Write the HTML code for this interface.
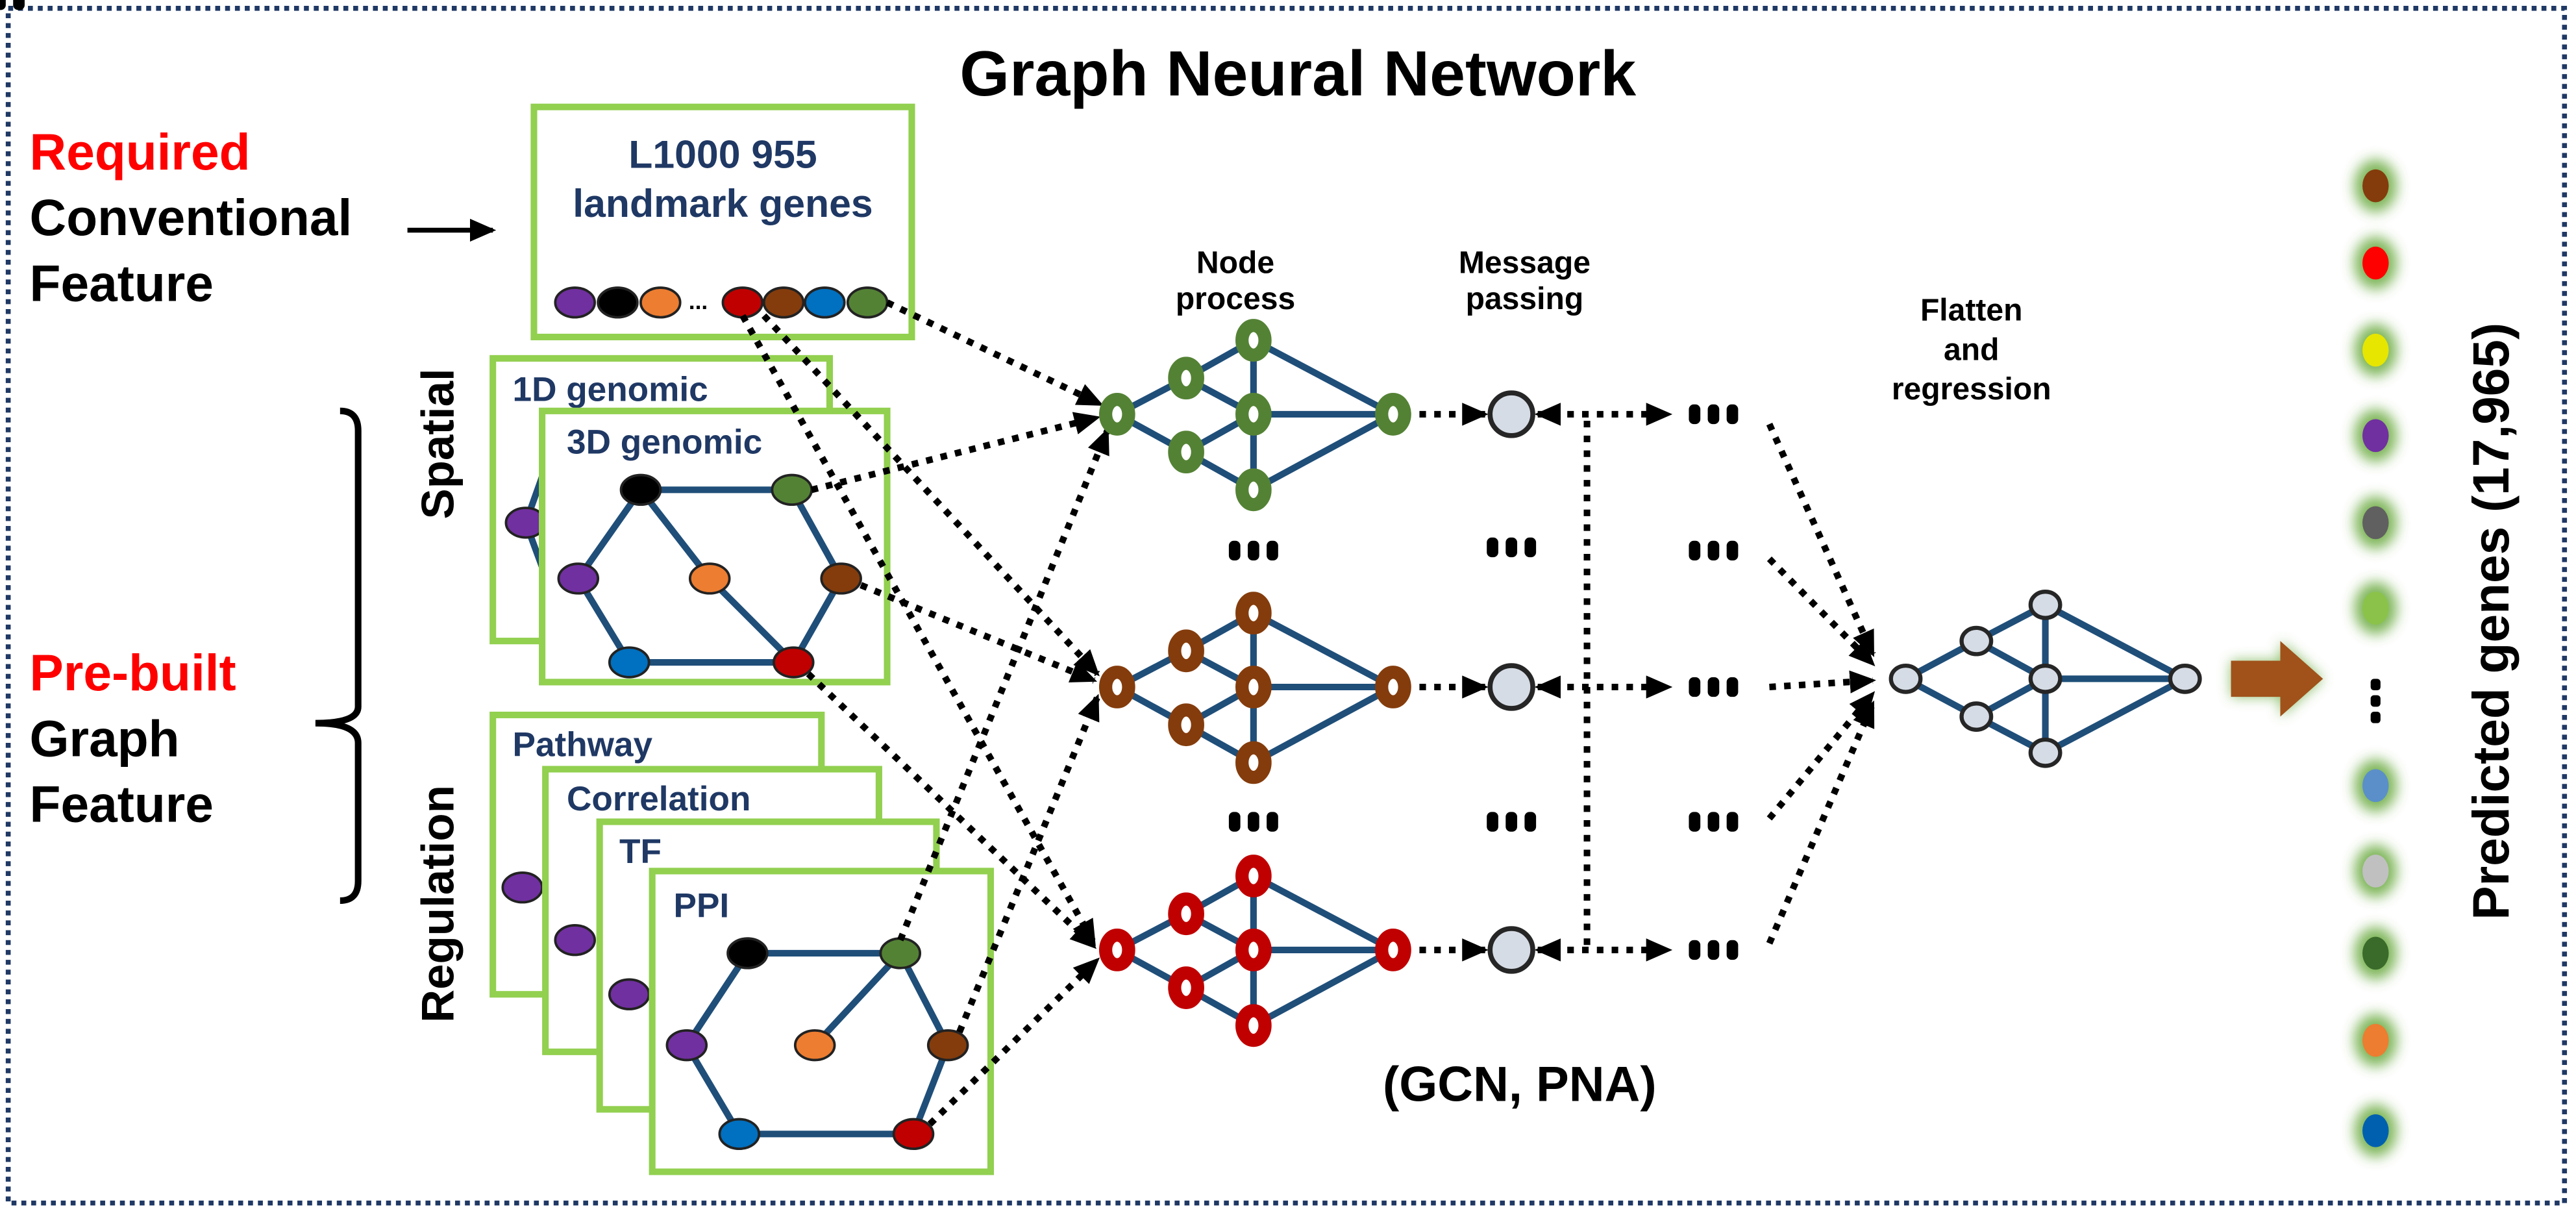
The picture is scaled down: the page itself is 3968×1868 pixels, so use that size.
<!DOCTYPE html>
<html><head><meta charset="utf-8"><style>
html,body{margin:0;padding:0;background:#fff}
svg{display:block}
text{font-family:"Liberation Sans",sans-serif;font-weight:bold}
</style></head><body>
<svg width="3968" height="1868" viewBox="0 0 1568 738" xmlns="http://www.w3.org/2000/svg">
<defs>
<marker id="a" markerWidth="16" markerHeight="14" refX="14" refY="7" orient="auto" markerUnits="userSpaceOnUse"><path d="M0,0 L16,7 L0,14 z" fill="#000"/></marker>
<marker id="b" markerWidth="16" markerHeight="14" refX="2" refY="7" orient="auto" markerUnits="userSpaceOnUse"><path d="M16,0 L0,7 L16,14 z" fill="#000"/></marker>
<filter id="g" x="-100%" y="-100%" width="300%" height="300%"><feGaussianBlur stdDeviation="4"/></filter>
</defs>
<rect x="5" y="5" width="1556" height="727" fill="none" stroke="#1f3864" stroke-width="3" stroke-dasharray="3 3"/>
<text x="790" y="58" font-size="39" text-anchor="middle">Graph Neural Network</text>
<text x="18" y="103" font-size="31" fill="#ff0000">Required</text>
<text x="18" y="143" font-size="31">Conventional</text>
<text x="18" y="183" font-size="31">Feature</text>
<line x1="248" y1="140" x2="300" y2="140" stroke="#000" stroke-width="3" marker-end="url(#a)"/>
<text x="18" y="420" font-size="31" fill="#ff0000">Pre-built</text>
<text x="18" y="460" font-size="31">Graph</text>
<text x="18" y="500" font-size="31">Feature</text>
<path d="M207,250 Q218,250 218,262 L218,430 Q218,440 192,440 Q218,440 218,452 L218,536 Q218,548 207,548" fill="none" stroke="#000" stroke-width="4"/>
<text transform="translate(276,270) rotate(-90)" font-size="28" text-anchor="middle">Spatial</text>
<text transform="translate(276,550) rotate(-90)" font-size="28" text-anchor="middle">Regulation</text>

<rect x="325" y="65" width="230" height="140" stroke="#92d050" stroke-width="4" fill="#fff"/>
<text x="440" y="102" font-size="24" fill="#1f3864" text-anchor="middle">L1000 955</text>
<text x="440" y="132" font-size="24" fill="#1f3864" text-anchor="middle">landmark genes</text>
<g stroke="#222" stroke-width="1.5">
<ellipse cx="350" cy="184" rx="12" ry="9" fill="#7030a0"/>
<ellipse cx="376" cy="184" rx="12" ry="9" fill="#000"/>
<ellipse cx="402" cy="184" rx="12" ry="9" fill="#ed7d31"/>
<ellipse cx="452" cy="184" rx="12" ry="9" fill="#c00000"/>
<ellipse cx="477" cy="184" rx="12" ry="9" fill="#843c0c"/>
<ellipse cx="502" cy="184" rx="12" ry="9" fill="#0070c0"/>
<ellipse cx="528" cy="184" rx="12" ry="9" fill="#548235"/>
</g>
<text x="425" y="188" font-size="14" text-anchor="middle">...</text>

<rect x="300" y="218" width="205" height="172" fill="#fff" stroke="#92d050" stroke-width="4"/>
<text x="312" y="244" font-size="21" fill="#1f3864">1D genomic</text>
<path d="M330,290 L320,318 L330,345" fill="none" stroke="#1f4e79" stroke-width="4"/>
<ellipse cx="320" cy="318" rx="12" ry="9" fill="#7030a0" stroke="#222" stroke-width="1.5"/>
<rect x="330" y="250" width="210" height="165" fill="#fff" stroke="#92d050" stroke-width="4"/>
<text x="345" y="276" font-size="21" fill="#1f3864">3D genomic</text>
<path d="M390,298 L482,298 L512,352 L483,403 L383,403 L352,352 Z M390,298 L432,352 L483,403" fill="none" stroke="#1f4e79" stroke-width="4"/>
<g stroke="#222" stroke-width="1.5">
<ellipse cx="390" cy="298" rx="12" ry="9" fill="#000"/>
<ellipse cx="482" cy="298" rx="12" ry="9" fill="#548235"/>
<ellipse cx="352" cy="352" rx="12" ry="9" fill="#7030a0"/>
<ellipse cx="432" cy="352" rx="12" ry="9" fill="#ed7d31"/>
<ellipse cx="512" cy="352" rx="12" ry="9" fill="#843c0c"/>
<ellipse cx="383" cy="403" rx="12" ry="9" fill="#0070c0"/>
<ellipse cx="483" cy="403" rx="12" ry="9" fill="#c00000"/>
</g>

<rect x="300" y="435" width="200" height="170" fill="#fff" stroke="#92d050" stroke-width="4"/>
<text x="312" y="460" font-size="21" fill="#1f3864">Pathway</text>
<ellipse cx="318" cy="540" rx="12" ry="9" fill="#7030a0" stroke="#222" stroke-width="1.5"/>
<rect x="332" y="468" width="203" height="172" fill="#fff" stroke="#92d050" stroke-width="4"/>
<text x="345" y="493" font-size="21" fill="#1f3864">Correlation</text>
<ellipse cx="350" cy="572" rx="12" ry="9" fill="#7030a0" stroke="#222" stroke-width="1.5"/>
<rect x="365" y="500" width="205" height="175" fill="#fff" stroke="#92d050" stroke-width="4"/>
<text x="377" y="525" font-size="21" fill="#1f3864">TF</text>
<ellipse cx="383" cy="605" rx="12" ry="9" fill="#7030a0" stroke="#222" stroke-width="1.5"/>
<rect x="397" y="530" width="206" height="183" fill="#fff" stroke="#92d050" stroke-width="4"/>
<text x="410" y="558" font-size="21" fill="#1f3864">PPI</text>
<path d="M455,580 L548,580 L577,636 L556,690 L450,690 L418,636 Z M548,580 L496,636" fill="none" stroke="#1f4e79" stroke-width="4"/>
<g stroke="#222" stroke-width="1.5">
<ellipse cx="455" cy="580" rx="12" ry="9" fill="#000"/>
<ellipse cx="548" cy="580" rx="12" ry="9" fill="#548235"/>
<ellipse cx="418" cy="636" rx="12" ry="9" fill="#7030a0"/>
<ellipse cx="496" cy="636" rx="12" ry="9" fill="#ed7d31"/>
<ellipse cx="577" cy="636" rx="12" ry="9" fill="#843c0c"/>
<ellipse cx="450" cy="690" rx="12" ry="9" fill="#0070c0"/>
<ellipse cx="556" cy="690" rx="12" ry="9" fill="#c00000"/>
</g>

<g stroke="#000" stroke-width="4" stroke-dasharray="4 5" fill="none" marker-end="url(#a)">
<line x1="540" y1="184" x2="670" y2="246"/>
<line x1="494" y1="298" x2="668" y2="254"/>
<line x1="548" y1="572" x2="674" y2="262"/>
<line x1="465" y1="192" x2="668" y2="410"/>
<line x1="524" y1="356" x2="666" y2="414"/>
<line x1="584" y1="628" x2="668" y2="424"/>
<line x1="452" y1="192" x2="666" y2="574"/>
<line x1="492" y1="410" x2="666" y2="576"/>
<line x1="566" y1="684" x2="668" y2="584"/>
</g>

<text x="752" y="166" font-size="19" text-anchor="middle">Node</text>
<text x="752" y="188" font-size="19" text-anchor="middle">process</text>
<text x="928" y="166" font-size="19" text-anchor="middle">Message</text>
<text x="928" y="188" font-size="19" text-anchor="middle">passing</text>

<g id="gg">
<path d="M680,252 L722,230 L763,207 L848,252 L763,298 L722,275 Z M722,230 L763,252 L722,275 M763,207 L763,298 M763,252 L848,252" fill="none" stroke="#1f4e79" stroke-width="4"/>
</g>
<g id="nn" stroke-width="8" fill="#fff" stroke="#548235">
<ellipse cx="680" cy="252" rx="7" ry="9"/><ellipse cx="722" cy="230" rx="7" ry="9"/><ellipse cx="763" cy="207" rx="7" ry="9"/><ellipse cx="763" cy="252" rx="7" ry="9"/><ellipse cx="722" cy="275" rx="7" ry="9"/><ellipse cx="763" cy="298" rx="7" ry="9"/><ellipse cx="848" cy="252" rx="7" ry="9"/>
</g>
<use href="#gg" y="166"/>
<g stroke-width="8" fill="#fff" stroke="#843c0c" transform="translate(0,166)">
<ellipse cx="680" cy="252" rx="7" ry="9"/><ellipse cx="722" cy="230" rx="7" ry="9"/><ellipse cx="763" cy="207" rx="7" ry="9"/><ellipse cx="763" cy="252" rx="7" ry="9"/><ellipse cx="722" cy="275" rx="7" ry="9"/><ellipse cx="763" cy="298" rx="7" ry="9"/><ellipse cx="848" cy="252" rx="7" ry="9"/>
</g>
<use href="#gg" y="326"/>
<g stroke-width="8" fill="#fff" stroke="#c00000" transform="translate(0,326)">
<ellipse cx="680" cy="252" rx="7" ry="9"/><ellipse cx="722" cy="230" rx="7" ry="9"/><ellipse cx="763" cy="207" rx="7" ry="9"/><ellipse cx="763" cy="252" rx="7" ry="9"/><ellipse cx="722" cy="275" rx="7" ry="9"/><ellipse cx="763" cy="298" rx="7" ry="9"/><ellipse cx="848" cy="252" rx="7" ry="9"/>
</g>

<g stroke="#000" stroke-width="4" stroke-dasharray="4 5" fill="none">
<line x1="864" y1="252" x2="904" y2="252" marker-end="url(#a)"/>
<line x1="864" y1="418" x2="904" y2="418" marker-end="url(#a)"/>
<line x1="864" y1="578" x2="904" y2="578" marker-end="url(#a)"/>
<line x1="966" y1="256" x2="966" y2="578"/>
<line x1="936" y1="252" x2="1016" y2="252" marker-start="url(#b)" marker-end="url(#a)"/>
<line x1="936" y1="418" x2="1016" y2="418" marker-start="url(#b)" marker-end="url(#a)"/>
<line x1="936" y1="578" x2="1016" y2="578" marker-start="url(#b)" marker-end="url(#a)"/>
<line x1="1077" y1="258" x2="1140" y2="398" marker-end="url(#a)"/>
<line x1="1077" y1="340" x2="1140" y2="404" marker-end="url(#a)"/>
<line x1="1077" y1="418" x2="1140" y2="414" marker-end="url(#a)"/>
<line x1="1077" y1="498" x2="1140" y2="422" marker-end="url(#a)"/>
<line x1="1077" y1="574" x2="1140" y2="428" marker-end="url(#a)"/>
</g>
<g fill="#d6dce5" stroke="#262626" stroke-width="3">
<ellipse cx="920" cy="252" rx="13" ry="13"/>
<ellipse cx="920" cy="418" rx="13" ry="13"/>
<ellipse cx="920" cy="578" rx="13" ry="13"/>
</g>
<g fill="#000">
<g id="el"><rect x="-15" y="-6" width="7" height="12" rx="3"/><rect x="-3.5" y="-6" width="7" height="12" rx="3"/><rect x="8" y="-6" width="7" height="12" rx="3"/></g>
<use href="#el" x="763" y="335"/><use href="#el" x="763" y="500"/>
<use href="#el" x="920" y="333"/><use href="#el" x="920" y="500"/>
<use href="#el" x="1043" y="252"/><use href="#el" x="1043" y="335"/><use href="#el" x="1043" y="418"/><use href="#el" x="1043" y="500"/><use href="#el" x="1043" y="578"/>
</g>

<text x="1200" y="195" font-size="19" text-anchor="middle">Flatten</text>
<text x="1200" y="219" font-size="19" text-anchor="middle">and</text>
<text x="1200" y="243" font-size="19" text-anchor="middle">regression</text>
<path d="M1160,413 L1203,390 L1245,368 L1330,413 L1245,458 L1203,436 Z M1203,390 L1245,413 L1203,436 M1245,368 L1245,458 M1245,413 L1330,413" fill="none" stroke="#1f4e79" stroke-width="4"/>
<g fill="#d6dce5" stroke="#262626" stroke-width="2.5">
<ellipse cx="1160" cy="413" rx="9" ry="8"/><ellipse cx="1203" cy="390" rx="9" ry="8"/><ellipse cx="1245" cy="368" rx="9" ry="8"/><ellipse cx="1245" cy="413" rx="9" ry="8"/><ellipse cx="1203" cy="436" rx="9" ry="8"/><ellipse cx="1245" cy="458" rx="9" ry="8"/><ellipse cx="1330" cy="413" rx="9" ry="8"/>
</g>
<path d="M1358,402 L1388,402 L1388,390 L1414,413 L1388,436 L1388,424 L1358,424 Z" fill="#70ad47" filter="url(#g)" opacity="0.8"/>
<path d="M1358,402 L1388,402 L1388,390 L1414,413 L1388,436 L1388,424 L1358,424 Z" fill="#a0521a"/>

<g filter="url(#g)" fill="#70ad47" opacity="0.9">
<ellipse cx="1446" cy="113" rx="13" ry="16"/><ellipse cx="1446" cy="160" rx="13" ry="16"/><ellipse cx="1446" cy="213" rx="13" ry="16"/><ellipse cx="1446" cy="265" rx="13" ry="16"/><ellipse cx="1446" cy="318" rx="13" ry="16"/><ellipse cx="1446" cy="370" rx="13" ry="16"/><ellipse cx="1446" cy="478" rx="13" ry="16"/><ellipse cx="1446" cy="530" rx="13" ry="16"/><ellipse cx="1446" cy="580" rx="13" ry="16"/><ellipse cx="1446" cy="633" rx="13" ry="16"/><ellipse cx="1446" cy="688" rx="13" ry="16"/>
</g>
<ellipse cx="1446" cy="113" rx="8" ry="10" fill="#843c0c"/>
<ellipse cx="1446" cy="160" rx="8" ry="10" fill="#ff0000"/>
<ellipse cx="1446" cy="213" rx="8" ry="10" fill="#e6e600"/>
<ellipse cx="1446" cy="265" rx="8" ry="10" fill="#7030a0"/>
<ellipse cx="1446" cy="318" rx="8" ry="10" fill="#606060"/>
<ellipse cx="1446" cy="370" rx="8" ry="10" fill="#8bc34a"/>
<ellipse cx="1446" cy="478" rx="8" ry="10" fill="#5b8fc9"/>
<ellipse cx="1446" cy="530" rx="8" ry="10" fill="#c0c0c0"/>
<ellipse cx="1446" cy="580" rx="8" ry="10" fill="#3a6b2a"/>
<ellipse cx="1446" cy="633" rx="8" ry="10" fill="#ed7d31"/>
<ellipse cx="1446" cy="688" rx="8" ry="10" fill="#0060b0"/>
<g fill="#000"><rect x="1443" y="413" width="6" height="7" rx="2"/><rect x="1443" y="423" width="6" height="7" rx="2"/><rect x="1443" y="433" width="6" height="7" rx="2"/></g>
<text transform="translate(1527,378) rotate(-90)" font-size="31" text-anchor="middle">Predicted genes (17,965)</text>
<text x="925" y="670" font-size="30" text-anchor="middle">(GCN, PNA)</text>
</svg>
</body></html>
